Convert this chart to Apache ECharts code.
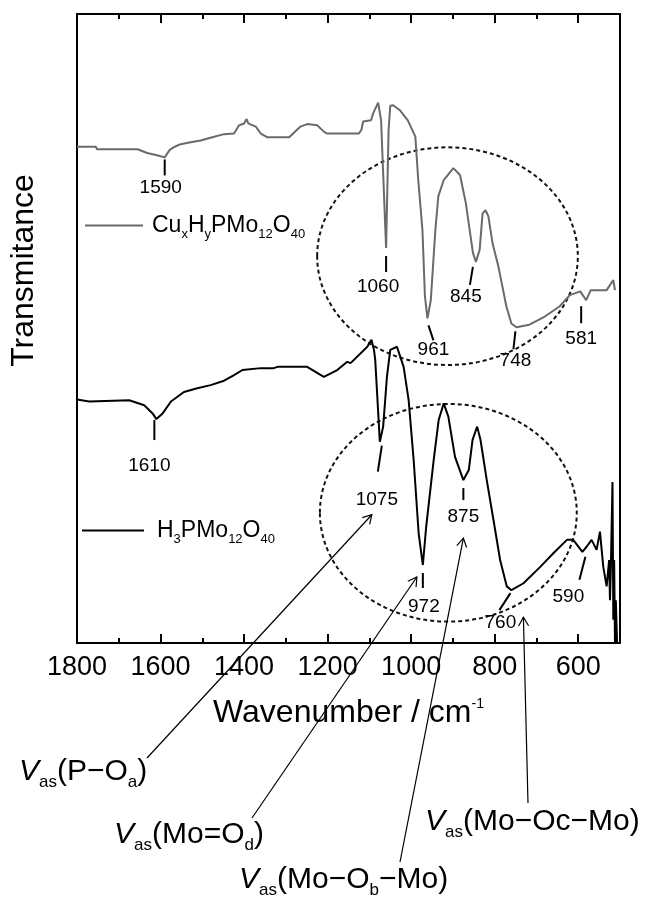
<!DOCTYPE html>
<html>
<head>
<meta charset="utf-8">
<script src="https://cdn.jsdelivr.net/npm/echarts@6/dist/echarts.min.js"></script>
<style>
  html, body { margin: 0; padding: 0; background: #ffffff; }
  #chart { width: 646px; height: 899px; }
</style>
</head>
<body>
<div id="chart"></div>
<script>
// ---- FT-IR spectra (wavenumber in cm^-1, transmittance in arbitrary units) ----
const cuWavenumber = [1800, 1755, 1752, 1655, 1632, 1606, 1590, 1578, 1566, 1552, 1528, 1504, 1476, 1448, 1424,
  1412, 1400, 1394, 1390, 1372, 1360, 1344, 1292, 1289, 1265, 1249, 1225, 1209, 1201, 1125, 1119, 1115,
  1096, 1091, 1079, 1072, 1060, 1054, 1050, 1043, 1027, 1008, 990, 983, 973, 967, 961, 953, 942, 935,
  922, 899, 883, 869, 852, 845, 836, 829, 822, 815, 805, 791, 772, 760, 748, 717, 680, 645, 620, 595,
  581, 570, 532, 516, 512];
const cuTransmittance = [78.9, 78.9, 78.5, 78.5, 77.9, 77.5, 77.2, 78.4, 78.9, 79.3, 79.6, 79.9, 80.4, 80.9, 81.0,
  82.3, 82.6, 83.3, 82.6, 82.1, 81.0, 80.4, 80.4, 80.7, 82.1, 82.5, 82.3, 81.3, 81.0, 81.0, 81.6, 82.9,
  83.1, 84.2, 85.9, 83.1, 62.8, 81.6, 85.4, 85.5, 84.7, 83.1, 80.5, 73.6, 65.7, 55.1, 51.6, 54.5, 65.7, 71.0,
  73.6, 75.5, 74.4, 69.9, 62.0, 60.6, 62.5, 68.3, 68.8, 67.8, 63.5, 59.8, 53.5, 50.8, 50.2, 50.6, 51.9, 53.5, 55.3, 55.9,
  54.5, 56.1, 56.1, 57.7, 56.1];

const hWavenumber = [1800, 1771, 1675, 1639, 1619, 1610, 1595, 1575, 1544, 1512, 1480, 1448, 1424, 1404, 1360,
  1329, 1320, 1249, 1209, 1177, 1153, 1145, 1105, 1095, 1089, 1086, 1075, 1067, 1058, 1050, 1034, 1018,
  1006, 994, 982, 972, 964, 946, 934, 922, 911, 895, 875, 862, 853, 842, 834, 819, 803, 787, 771, 760,
  731, 691, 659, 627, 612, 590, 580, 568, 556, 548, 540, 532, 526, 524, 522, 518, 516, 514, 512, 510, 507];
const hTransmittance = [38.7, 38.4, 38.6, 37.8, 36.5, 35.6, 36.5, 38.4, 39.9, 40.5, 41.0, 41.7, 42.6, 43.4, 43.7,
  43.7, 43.9, 43.9, 42.3, 43.4, 44.7, 44.5, 47.1, 48.2, 46.6, 45.0, 32.0, 34.4, 42.3, 46.6, 47.1, 43.9,
  38.6, 29.1, 17.4, 12.4, 18.5, 29.1, 35.5, 38.1, 36.0, 29.6, 25.9, 27.5, 32.3, 34.4, 32.3, 25.9, 19.6, 13.2, 9.0, 8.4,
  9.5, 12.1, 14.3, 16.4, 16.4, 14.5, 15.3, 16.4, 14.8, 17.7, 12.1, 9.0, 13.2, 6.8, 11.6, 25.6, 3.7, 13.2, 0, 6.8, 0];

// Assigned band positions (cm^-1)
const cuPeaks = [1590, 1060, 961, 845, 748, 581];
const hPeaks = [1610, 1075, 972, 875, 760, 590];

// Axis ticks
const xMajorTicks = [1800, 1600, 1400, 1200, 1000, 800, 600];
const xMinorTicks = [1700, 1500, 1300, 1100, 900, 700];

// Vibration assignments pointing at the H3PMo12O40 bands
const assignNames = ['P−O_a', 'Mo=O_d', 'Mo−O_b−Mo', 'Mo−Oc−Mo'];
const assignBands = [1075, 972, 875, 760];

// ---- layout / style ----
const FONT = '"Liberation Sans", Arial, Helvetica, sans-serif';
const CU_COLOR = '#6a6a6a';
const H_COLOR = '#000000';

// tick segment [dx1, dy1, dx2, dy2] and text offset [dx, dy], relative to the band minimum (px)
const cuPeakLayout = [
  { tick: [0, 2, 0, 18], text: [-4, 30] },
  { tick: [0, 8, 0, 24], text: [-8, 39] },
  { tick: [1, 7, 6, 22], text: [6, 31] },
  { tick: [-3, 5, -6, 23], text: [-10, 35] },
  { tick: [-1, 4, -3, 22], text: [-1, 34] },
  { tick: [-5, 6, -5, 23], text: [-5, 39] }
];
const hPeakLayout = [
  { tick: [-2, 1, -2, 21], text: [-7, 47] },
  { tick: [2, 4, -2, 30], text: [-3, 58] },
  { tick: [0, 8, 0, 23], text: [1, 42] },
  { tick: [0, 8, 0, 20], text: [0, 37] },
  { tick: [-1, 3, -12, 20], text: [-11, 33] },
  { tick: [3, 5, -3, 28], text: [-14, 45] }
];
// arrow: tail point (px, below the plot) and head offset from the band minimum
const assignLayout = [
  { textX: 19, textY: 772, tail: [147, 758], head: [-8, 73] },
  { textX: 114, textY: 835, tail: [252, 818], head: [-6, 12] },
  { textX: 239, textY: 880, tail: [400, 862], head: [0, 58] },
  { textX: 425, textY: 822, tail: [528, 803], head: [12, 27] }
];
// dashed ellipses around the fingerprint region: centre (cm^-1, T) and half-axes
const ellipses = [
  { wn: 913, t: 61.5, dwn: 312, dt: 17.3 },
  { wn: 911, t: 20.7, dwn: 307.5, dt: 17.3 }
];

const zip = (a, b) => a.map((v, i) => [v, b[i]]);

const subRich = {
  m: { fontSize: 23, lineHeight: 30, verticalAlign: 'middle', fontFamily: FONT, color: '#000' },
  s: { fontSize: 13, lineHeight: 14, verticalAlign: 'bottom', fontFamily: FONT, color: '#000' }
};
const legendText = {
  'CuxHyPMo12O40': '{m|Cu}{s|x}{m|H}{s|y}{m|PMo}{s|12}{m|O}{s|40}',
  'H3PMo12O40': '{m|H}{s|3}{m|PMo}{s|12}{m|O}{s|40}'
};

function xAxisDef(position, ticks, len, extra) {
  return Object.assign({
    type: 'value', min: 500, max: 1800, inverse: true, position: position,
    axisLine: { show: false, onZero: false },
    axisTick: { show: true, inside: true, length: len, customValues: ticks, lineStyle: { color: '#000', width: 2 } },
    axisLabel: { show: false },
    splitLine: { show: false }
  }, extra || {});
}

const chart = echarts.init(document.getElementById('chart'), null, { renderer: 'canvas' });

const option = {
  animation: false,
  backgroundColor: '#ffffff',
  grid: { left: 75, right: 26, top: 14, bottom: 256, containLabel: false },
  xAxis: [
    xAxisDef('bottom', xMajorTicks, 9, {
      axisLine: { show: true, onZero: false, lineStyle: { color: '#000', width: 2 } },
      axisLabel: {
        show: true, customValues: xMajorTicks, fontSize: 27, color: '#000', fontFamily: FONT, margin: 11,
        formatter: v => String(v)
      },
      name: '{a|Wavenumber / cm}{b|-1}',
      nameLocation: 'middle',
      nameGap: 54,
      nameTextStyle: {
        rich: {
          a: { fontSize: 32, lineHeight: 36, verticalAlign: 'top', fontFamily: FONT, color: '#000' },
          b: { fontSize: 14, lineHeight: 14, verticalAlign: 'top', fontFamily: FONT, color: '#000' }
        }
      }
    }),
    xAxisDef('bottom', xMinorTicks, 5),
    xAxisDef('top', xMajorTicks, 9, {
      axisLine: { show: true, onZero: false, lineStyle: { color: '#000', width: 2 } }
    }),
    xAxisDef('top', xMinorTicks, 5)
  ],
  yAxis: [
    {
      type: 'value', min: 0, max: 100, position: 'left',
      axisLine: { show: true, onZero: false, lineStyle: { color: '#000', width: 2 } },
      axisTick: { show: false }, axisLabel: { show: false }, splitLine: { show: false },
      name: 'Transmitance', nameLocation: 'middle', nameGap: 37,
      nameTextStyle: { fontSize: 32, color: '#000', fontFamily: FONT, padding: [0, 0, 0, 116] }
    },
    {
      type: 'value', min: 0, max: 100, position: 'right',
      axisLine: { show: true, onZero: false, lineStyle: { color: '#000', width: 2 } },
      axisTick: { show: false }, axisLabel: { show: false }, splitLine: { show: false }
    }
  ],
  legend: [
    {
      data: ['CuxHyPMo12O40'], left: 80, top: 209, icon: 'rect', itemWidth: 58, itemHeight: 2,
      formatter: n => legendText[n],
      textStyle: { padding: [0, 0, 0, 4], rich: subRich }
    },
    {
      data: ['H3PMo12O40'], left: 77, top: 514, icon: 'rect', itemWidth: 62, itemHeight: 2,
      formatter: n => legendText[n],
      textStyle: { padding: [0, 0, 0, 8], rich: subRich }
    }
  ],
  series: [
    {
      name: 'CuxHyPMo12O40', type: 'line', xAxisIndex: 0, yAxisIndex: 0,
      data: zip(cuWavenumber, cuTransmittance), showSymbol: false, symbol: 'none',
      color: CU_COLOR, lineStyle: { color: CU_COLOR, width: 2 }
    },
    {
      name: 'H3PMo12O40', type: 'line', xAxisIndex: 0, yAxisIndex: 0,
      data: zip(hWavenumber, hTransmittance), showSymbol: false, symbol: 'none',
      color: H_COLOR, lineStyle: { color: H_COLOR, width: 2 }
    }
  ]
};
chart.setOption(option);

// ---- annotations placed through the axes ----
const toPx = (wn, t) => chart.convertToPixel({ xAxisIndex: 0, yAxisIndex: 0 }, [wn, t]);
const valueAt = (wns, ts, w) => ts[wns.indexOf(w)];
const graphics = [];

function addPeakMarks(peaks, wns, ts, layout) {
  peaks.forEach((w, i) => {
    const p = toPx(w, valueAt(wns, ts, w));
    const L = layout[i];
    graphics.push({
      type: 'line', silent: true,
      shape: { x1: p[0] + L.tick[0], y1: p[1] + L.tick[1], x2: p[0] + L.tick[2], y2: p[1] + L.tick[3] },
      style: { stroke: '#000', lineWidth: 2 }
    });
    graphics.push({
      type: 'text', silent: true,
      style: {
        text: String(w), x: p[0] + L.text[0], y: p[1] + L.text[1],
        align: 'center', verticalAlign: 'middle', fontSize: 19, fontFamily: FONT, fill: '#000'
      }
    });
  });
}
addPeakMarks(cuPeaks, cuWavenumber, cuTransmittance, cuPeakLayout);
addPeakMarks(hPeaks, hWavenumber, hTransmittance, hPeakLayout);

ellipses.forEach(e => {
  const c = toPx(e.wn, e.t);
  const r = toPx(e.wn - e.dwn, e.t + e.dt);
  graphics.push({
    type: 'ellipse', silent: true,
    shape: { cx: c[0], cy: c[1], rx: Math.abs(r[0] - c[0]), ry: Math.abs(c[1] - r[1]) },
    style: { fill: 'none', stroke: '#111', lineWidth: 2, lineDash: [4, 3] }
  });
});

// assignment captions: V_as(...) with subscripts
const capRich = {
  v: { fontSize: 30, fontStyle: 'italic', fontFamily: FONT, fill: '#000', lineHeight: 38, verticalAlign: 'middle' },
  m: { fontSize: 30, fontFamily: FONT, fill: '#000', lineHeight: 38, verticalAlign: 'middle' },
  s: { fontSize: 17, fontFamily: FONT, fill: '#000', lineHeight: 17, verticalAlign: 'bottom' }
};
function captionRich(name) {
  // "P−O_a" -> {m|P−O}{s|a}
  const parts = name.split(/_([a-z])/);
  let out = '{v|V}{s|as}{m|(}';
  parts.forEach((p, i) => { out += (i % 2 === 0) ? (p ? '{m|' + p + '}' : '') : '{s|' + p + '}'; });
  return out + '{m|)}';
}

assignNames.forEach((name, i) => {
  const L = assignLayout[i];
  const w = assignBands[i];
  const p = toPx(w, valueAt(hWavenumber, hTransmittance, w));
  const hx = p[0] + L.head[0], hy = p[1] + L.head[1];
  const tx = L.tail[0], ty = L.tail[1];
  graphics.push({
    type: 'line', silent: true,
    shape: { x1: tx, y1: ty, x2: hx, y2: hy },
    style: { stroke: '#000', lineWidth: 1.2 }
  });
  const ang = Math.atan2(hy - ty, hx - tx);
  const len = 10, spread = Math.PI / 6;
  graphics.push({
    type: 'polyline', silent: true,
    shape: { points: [
      [hx - len * Math.cos(ang - spread), hy - len * Math.sin(ang - spread)],
      [hx, hy],
      [hx - len * Math.cos(ang + spread), hy - len * Math.sin(ang + spread)]
    ] },
    style: { stroke: '#000', lineWidth: 1.2, fill: 'none' }
  });
  graphics.push({
    type: 'text', silent: true,
    style: { text: captionRich(name), x: L.textX, y: L.textY, verticalAlign: 'middle', align: 'left', rich: capRich }
  });
});

chart.setOption({ graphic: graphics });
</script>
</body>
</html>
